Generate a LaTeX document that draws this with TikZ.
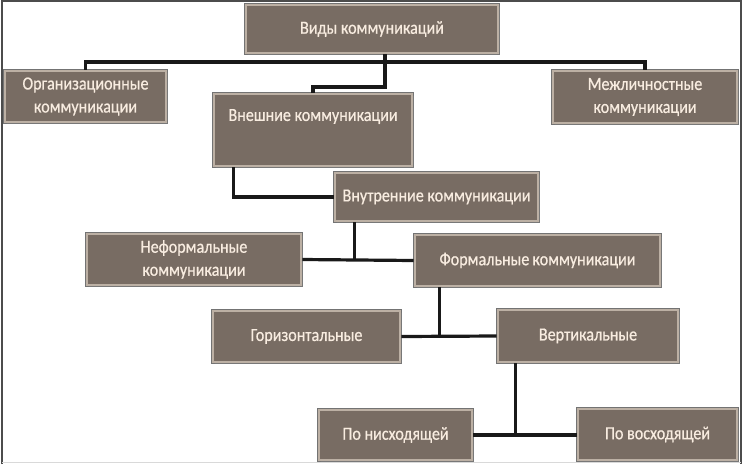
\documentclass[tikz,border=0pt]{standalone}
\usepackage{fontspec}
\setmainfont{Carlito}[FakeStretch=0.87, FakeBold=0.6, AutoFakeBold=0.6]
\usepackage{xcolor}
\usepackage{tikz}
\usetikzlibrary{positioning,shadows}

\definecolor{boxfill}{RGB}{120,108,99}
\definecolor{boxrim}{RGB}{188,176,164}
\definecolor{boxtext}{RGB}{248,236,224}

\begin{document}
\begin{tikzpicture}[x=1pt, y=-1pt,
    box/.style={rectangle, fill=boxfill, draw=boxrim, line width=2.6pt,
      preaction={draw=black!55, line width=4.2pt},
      drop shadow={opacity=0.45, shadow xshift=1.5pt, shadow yshift=-1.5pt},
      text=boxtext, align=center, inner sep=2pt,
      font=\fontsize{18.5}{23}\selectfont\bfseries},
    link/.style={draw=black!90, line width=3.2pt}]

\useasboundingbox (0,0) rectangle (744,464);

% Frame
\draw[black!70, line width=2pt] (2,464) -- (2,1) -- (741,1) -- (741,464);
\draw[black!15, line width=1pt] (2,462) -- (741,462);

% Boxes
\node[box, minimum width=252, minimum height=48] (vid) at (372,29) {Виды коммуникаций};
\node[box, minimum width=161, minimum height=51] (org) at (85.5,96.5) {Организационные\\коммуникации};
\node[box, minimum width=184, minimum height=52] (mezh) at (645,97) {Межличностные\\коммуникации};
\node[box, minimum width=198, minimum height=72, text depth=30pt] (vnesh) at (313,130) {Внешние коммуникации};
\node[box, minimum width=203, minimum height=48] (vnutr) at (436.5,197) {Внутренние коммуникации};
\node[box, minimum width=214, minimum height=51] (neform) at (194,259.5) {Неформальные\\коммуникации};
\node[box, minimum width=245, minimum height=51] (formal) at (537.5,260.5) {Формальные\,коммуникации};
\node[box, minimum width=187, minimum height=51] (gor) at (306.5,336.5) {Горизонтальные};
\node[box, minimum width=180, minimum height=52] (vert) at (588,336) {Вертикальные};
\node[box, minimum width=153, minimum height=50] (nish) at (395.5,435) {По нисходящей};
\node[box, minimum width=159, minimum height=51] (vosh) at (657.5,434.5) {По восходящей};

% Connectors
\coordinate (bus) at (385,62);
\coordinate (knee) at (385,87);
\draw[link] (org.north) |- (bus) -| (mezh.north);
\draw[link] (vid.south -| bus) -- (knee) -| (vnesh.north);

\coordinate (j1) at ([xshift=21pt]vnesh.south west);
\draw[link] (j1) |- (vnutr.west);

\coordinate (j2) at ([xshift=21pt]vnutr.south west);
\draw[link] (neform.east) -- (formal.west);
\draw[link] (j2) -- (j2 |- formal.west);

\coordinate (j3) at ([xshift=26pt]formal.south west);
\draw[link] (gor.east) -- (vert.west);
\draw[link] (j3) -- (j3 |- vert.west);

\coordinate (j4) at ([xshift=19pt]vert.south west);
\draw[link] (nish.east) -- (vosh.west |- nish.east);
\draw[link] (j4) -- (j4 |- nish.east);

\end{tikzpicture}
\end{document}
